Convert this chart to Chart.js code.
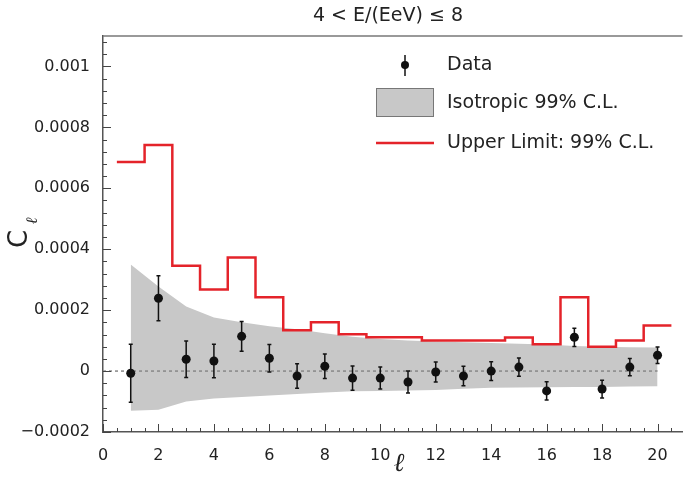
<!DOCTYPE html>
<html>
<head>
<meta charset="utf-8">
<script src="https://cdn.jsdelivr.net/npm/chart.js@4/dist/chart.umd.min.js"></script>
<style>
  html, body { margin: 0; padding: 0; background: #fff; }
  canvas { display: block; }
</style>
</head>
<body>
<canvas id="clChart" width="687" height="478"></canvas>
<script>
// multipoles
const ELL = [1, 2, 3, 4, 5, 6, 7, 8, 9, 10, 11, 12, 13, 14, 15, 16, 17, 18, 19, 20];

// measured C_ell and its error
const DATA_CL = [-0.000007, 0.000239, 0.000039, 0.000033, 0.000114, 0.000042, -0.000016, 0.000016, -0.000023, -0.000023,
                 -0.000036, -0.000003, -0.000016, 0.0, 0.000013, -0.000065, 0.000111, -0.000059, 0.000013, 0.000052];
const DATA_ERR = [0.000095, 0.000074, 0.00006, 0.000055, 0.000049, 0.000045, 0.00004, 0.00004, 0.00004, 0.000036,
                  0.000036, 0.000033, 0.000032, 0.000031, 0.00003, 0.00003, 0.00003, 0.000029, 0.000028, 0.000027];

// isotropic 99% C.L. band
const ISO_HI = [0.00035, 0.000278, 0.000212, 0.000176, 0.00016, 0.000147, 0.000137, 0.000124, 0.000113, 0.000105,
                0.0001, 0.000097, 0.000095, 0.000092, 0.00009, 0.000087, 0.000082, 0.00008, 0.000078, 0.000077];
const ISO_LO = [-0.00013, -0.000127, -0.0001, -0.00009, -0.000085, -0.00008, -0.000075, -0.00007, -0.000066, -0.000065,
                -0.000064, -0.000062, -0.000058, -0.000055, -0.000054, -0.000053, -0.000052, -0.000052, -0.000051, -0.00005];

// upper limit 99% C.L. (one bin per ell)
const UPPER_LIMIT = [0.000686, 0.000742, 0.000346, 0.000268, 0.000373, 0.000242, 0.000134, 0.00016, 0.000121, 0.000111,
                     0.000111, 0.0001, 0.0001, 0.0001, 0.00011, 0.000088, 0.000242, 0.00008, 0.0001, 0.00015];

// axis ticks
const X_TICKS = [0, 2, 4, 6, 8, 10, 12, 14, 16, 18, 20];
const Y_TICKS = [-0.0002, 0, 0.0002, 0.0004, 0.0006, 0.0008, 0.001];
const Y_TICK_LABELS = ['\u22120.0002', '0', '0.0002', '0.0004', '0.0006', '0.0008', '0.001'];

const FONT = '"DejaVu Sans", sans-serif';
const BAND_GREY = 'rgb(200,200,200)';
const RED = 'rgb(228,35,42)';

// step histogram: left edge of every bin, plus closing right edge
const stepPoints = UPPER_LIMIT.map((v, i) => ({ x: ELL[i] - 0.5, y: v }));
stepPoints.push({ x: ELL[ELL.length - 1] + 0.5, y: UPPER_LIMIT[UPPER_LIMIT.length - 1] });

// ROOT-like decorations: inner ticks, error bars, title, axis titles, legend
const rootStyle = {
    id: 'rootStyle',
    afterDatasetsDraw(chart) {
        const ctx = chart.ctx, xs = chart.scales.x, ys = chart.scales.y;
        ctx.save();
        ctx.strokeStyle = '#111';
        ctx.lineWidth = 1.5;
        ELL.forEach((l, i) => {
            const px = xs.getPixelForValue(l);
            const top = ys.getPixelForValue(DATA_CL[i] + DATA_ERR[i]);
            const bot = ys.getPixelForValue(DATA_CL[i] - DATA_ERR[i]);
            ctx.beginPath();
            ctx.moveTo(px, top); ctx.lineTo(px, bot);
            ctx.moveTo(px - 2, top); ctx.lineTo(px + 2, top);
            ctx.moveTo(px - 2, bot); ctx.lineTo(px + 2, bot);
            ctx.stroke();
        });
        ctx.restore();
    },
    afterDraw(chart) {
        const ctx = chart.ctx, xs = chart.scales.x, ys = chart.scales.y;
        const a = chart.chartArea;
        ctx.save();

        // top frame line
        ctx.strokeStyle = '#777';
        ctx.lineWidth = 1.5;
        ctx.beginPath();
        ctx.moveTo(a.left, a.top); ctx.lineTo(a.right, a.top);
        ctx.stroke();

        // inner ticks
        ctx.strokeStyle = '#444';
        ctx.lineWidth = 1;
        ctx.beginPath();
        for (let v = 0; v <= 20.75; v += 0.5) {
            const px = Math.round(xs.getPixelForValue(v)) + 0.5;
            const len = (v % 2 === 0) ? 8 : 4;
            ctx.moveTo(px, a.bottom); ctx.lineTo(px, a.bottom - len);
        }
        for (let k = -5; k <= 27; k++) {
            const v = k * 0.00004;
            const py = Math.round(ys.getPixelForValue(v)) + 0.5;
            const len = (k % 5 === 0) ? 8 : 4;
            ctx.moveTo(a.left, py); ctx.lineTo(a.left + len, py);
        }
        ctx.stroke();

        // title
        ctx.fillStyle = '#222';
        ctx.font = '19px ' + FONT;
        ctx.textAlign = 'center';
        ctx.textBaseline = 'middle';
        ctx.fillText('4 < E/(EeV) \u2264 8', 388, 16);

        // x axis title
        ctx.font = 'italic 26px "DejaVu Serif", serif';
        ctx.fillText('\u2113', 399, 464);

        // y axis title C_ell
        ctx.save();
        ctx.translate(20, 239);
        ctx.rotate(-Math.PI / 2);
        ctx.font = '26px ' + FONT;
        ctx.fillText('C', 0, 0);
        ctx.font = 'italic 16px "DejaVu Serif", serif';
        ctx.fillText('\u2113', 18, 13);
        ctx.restore();

        // legend
        ctx.textAlign = 'left';
        ctx.font = '19px ' + FONT;
        ctx.fillText('Data', 447, 65);
        ctx.fillText('Isotropic 99% C.L.', 447, 103);
        ctx.fillText('Upper Limit: 99% C.L.', 447, 143);

        ctx.strokeStyle = '#111';
        ctx.lineWidth = 1.5;
        ctx.beginPath();
        ctx.moveTo(405, 55); ctx.lineTo(405, 76);
        ctx.stroke();
        ctx.fillStyle = '#111';
        ctx.beginPath();
        ctx.arc(405, 65, 4, 0, Math.PI * 2);
        ctx.fill();

        ctx.fillStyle = BAND_GREY;
        ctx.fillRect(376, 88, 58, 29);
        ctx.strokeStyle = '#777';
        ctx.lineWidth = 1;
        ctx.strokeRect(376.5, 88.5, 57, 28);

        ctx.strokeStyle = RED;
        ctx.lineWidth = 2.5;
        ctx.beginPath();
        ctx.moveTo(376, 143); ctx.lineTo(434, 143);
        ctx.stroke();

        ctx.restore();
    }
};

new Chart(document.getElementById('clChart'), {
    type: 'line',
    data: {
        datasets: [
            {
                label: 'Isotropic 99% C.L.',
                data: ELL.map((l, i) => ({ x: l, y: ISO_HI[i] })),
                borderWidth: 0,
                borderColor: BAND_GREY,
                backgroundColor: BAND_GREY,
                pointRadius: 0,
                fill: '+1',
                order: 5
            },
            {
                label: 'iso low',
                data: ELL.map((l, i) => ({ x: l, y: ISO_LO[i] })),
                borderWidth: 0,
                borderColor: BAND_GREY,
                pointRadius: 0,
                fill: false,
                order: 4
            },
            {
                label: 'zero',
                data: [{ x: 0, y: 0 }, { x: 20, y: 0 }],
                borderColor: '#888',
                borderWidth: 1.5,
                borderDash: [3, 3],
                pointRadius: 0,
                fill: false,
                order: 3
            },
            {
                label: 'Upper Limit: 99% C.L.',
                data: stepPoints,
                stepped: 'before',
                borderColor: RED,
                borderWidth: 2.5,
                pointRadius: 0,
                fill: false,
                order: 2
            },
            {
                label: 'Data',
                data: ELL.map((l, i) => ({ x: l, y: DATA_CL[i] })),
                showLine: false,
                pointRadius: 4.5,
                pointBackgroundColor: '#111',
                pointBorderColor: '#111',
                pointBorderWidth: 0,
                order: 1
            }
        ]
    },
    options: {
        responsive: false,
        animation: false,
        layout: { padding: { top: 36, right: 0, left: 0, bottom: 0 } },
        plugins: {
            legend: { display: false },
            tooltip: { enabled: false }
        },
        scales: {
            x: {
                type: 'linear',
                min: 0,
                max: 20.9,
                grid: { display: false },
                border: { display: true, color: '#555', width: 1.5 },
                afterBuildTicks: (scale) => { scale.ticks = X_TICKS.map(v => ({ value: v })); },
                afterFit: (scale) => { scale.height = 46; },
                ticks: {
                    color: '#222',
                    font: { family: FONT, size: 16 },
                    padding: 6,
                    maxRotation: 0,
                    autoSkip: false
                }
            },
            y: {
                type: 'linear',
                min: -0.0002,
                max: 0.0011,
                grid: { display: false },
                border: { display: true, color: '#555', width: 1.5 },
                afterBuildTicks: (scale) => { scale.ticks = Y_TICKS.map(v => ({ value: v })); },
                afterFit: (scale) => { scale.width = 103; },
                ticks: {
                    color: '#222',
                    font: { family: FONT, size: 16 },
                    padding: 5,
                    callback: (v, i) => Y_TICK_LABELS[i]
                }
            }
        }
    },
    plugins: [rootStyle]
});
</script>
</body>
</html>
